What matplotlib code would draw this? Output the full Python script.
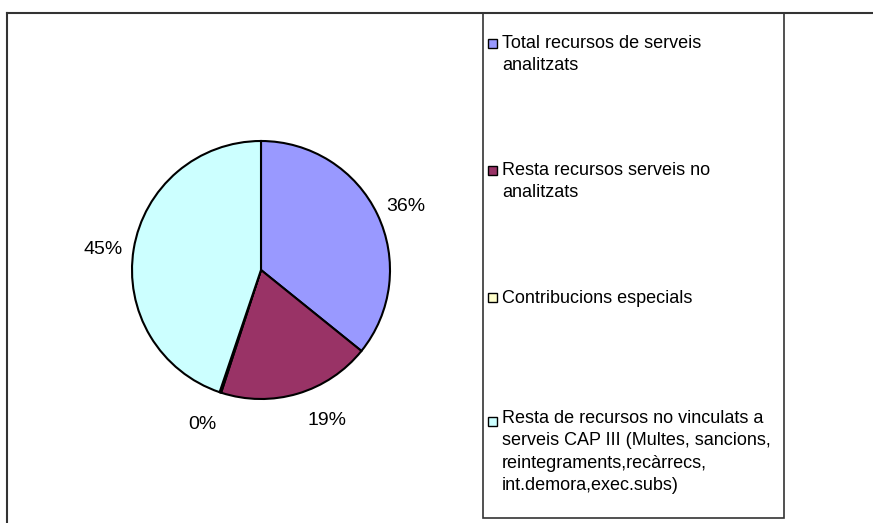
import matplotlib
matplotlib.use("Agg")
import matplotlib.pyplot as plt
from matplotlib.patches import Rectangle
from matplotlib.lines import Line2D
from matplotlib.transforms import ScaledTranslation
import numpy as np

plt.rcParams['font.family'] = ['Liberation Sans', 'DejaVu Sans']

categories = [
    "Total recursos de serveis\nanalitzats",
    "Resta recursos serveis no\nanalitzats",
    "Contribucions especials",
    "Resta de recursos no vinculats a\nserveis CAP III (Multes, sancions,\nreintegraments,recàrrecs,\nint.demora,exec.subs)",
]
values = [35.8, 19.2, 0.2, 44.8]
colors = ["#9999FF", "#993366", "#FFFFCC", "#CCFFFF"]

W, H = 873, 523
fig = plt.figure(figsize=(W / 100, H / 100), dpi=100)

def fx(px):
    return px / W

def fy(py):
    return 1 - py / H

# pie axes: center (261,270), radius 129 px
cx, cy, r = 261, 270, 129
ax = fig.add_axes([fx(cx - r), fy(cy + r), 2 * r / W, 2 * r / H])
wedges, texts, autotexts = ax.pie(
    values, colors=colors, startangle=90, counterclock=False,
    autopct=lambda p: f"{p:.0f}%", pctdistance=1.24,
    wedgeprops=dict(edgecolor="black", linewidth=1.5),
    textprops=dict(fontsize=14, color="black"),
)
ax.set_xlim(-1, 1)
ax.set_ylim(-1, 1)
ax.set_aspect("auto")
ax.axis("off")

# Excel-style label placement tweaks
def rotate_label(t, deg):
    x, y = t.get_position()
    a = np.arctan2(y, x) + np.deg2rad(deg)
    d = np.hypot(x, y)
    t.set_position((d * np.cos(a), d * np.sin(a)))

rotate_label(autotexts[1], 8)
rotate_label(autotexts[2], -3)
shift = ScaledTranslation(0, -3.5 / 100, fig.dpi_scale_trans)
for t in autotexts:
    t.set_va("center_baseline")
    t.set_transform(ax.transData + shift)

# frame lines
line_kw = dict(color="#333333", linewidth=1.5, transform=fig.transFigure)
fig.add_artist(Line2D([fx(7), fx(873)], [fy(13), fy(13)], **line_kw))
fig.add_artist(Line2D([fx(7), fx(7)], [fy(13), fy(523)], **line_kw))
fig.add_artist(Rectangle((fx(483), fy(518)), fx(784) - fx(483), fy(13) - fy(518),
                         fill=False, edgecolor="#333333", linewidth=1.2,
                         transform=fig.transFigure))

# legend entries (first-line baselines in px)
baselines = [49, 176, 303, 427]
step = 21
for lab, col, b in zip(categories, colors, baselines):
    n = lab.count("\n")
    fig.text(fx(502), fy(b + n * step), lab, fontsize=13, va="baseline",
             ha="left", linespacing=1.42)
    fig.add_artist(Rectangle((fx(488), fy(b - 1)), 9 / W, 9 / H,
                             facecolor=col, edgecolor="black", linewidth=1.0,
                             transform=fig.transFigure))

fig.savefig("out.png", dpi=100)
